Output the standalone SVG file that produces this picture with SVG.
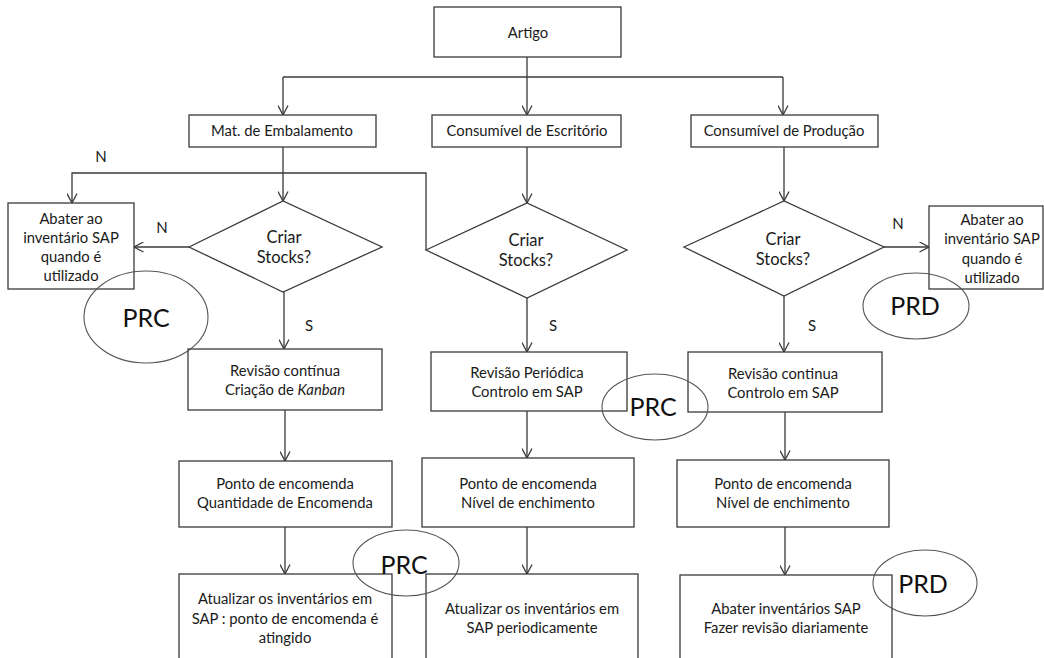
<svg xmlns="http://www.w3.org/2000/svg" width="1044" height="658" viewBox="0 0 1044 658">
  <defs>
    <marker id="arrow" viewBox="0 0 11 11" refX="10" refY="5.5" markerWidth="11" markerHeight="11" markerUnits="userSpaceOnUse" orient="auto">
      <path d="M0.5,0.5 L10,5.5 L0.5,10.5" fill="none" stroke="#3a3a3a" stroke-width="1.3"/>
    </marker>
    <style>
      .box { fill: #ffffff; stroke: #3a3a3a; stroke-width: 1.3; }
      .dia { fill: #ffffff; stroke: #3a3a3a; stroke-width: 1.3; }
      .tag { fill: none; stroke: #555555; stroke-width: 1.1; }
      .conn { fill: none; stroke: #3a3a3a; stroke-width: 1.3; }
      .t { font-family: Lato, "Open Sans", "Liberation Sans", sans-serif; font-size: 14.8px; fill: #1a1a1a; text-anchor: middle; dominant-baseline: central; }
      .q { font-size: 16.5px; }
      .lbl { font-family: Lato, "Open Sans", "Liberation Sans", sans-serif; font-size: 15px; fill: #1a1a1a; text-anchor: middle; dominant-baseline: central; }
      .big { font-family: Lato, "Open Sans", "Liberation Sans", sans-serif; font-size: 25px; fill: #111111; text-anchor: middle; dominant-baseline: central; }
    </style>
  </defs>
  <rect width="1044" height="658" fill="#ffffff"/>

  <!-- connectors -->
  <g id="connectors">
    <path class="conn" d="M527,57 V115" marker-end="url(#arrow)"/>
    <path class="conn" d="M283,77 H783"/>
    <path class="conn" d="M283,77 V115" marker-end="url(#arrow)"/>
    <path class="conn" d="M783,77 V115" marker-end="url(#arrow)"/>

    <!-- left column -->
    <path class="conn" d="M283,147 V201" marker-end="url(#arrow)"/>
    <path class="conn" d="M426,250 V173 H72 V203" marker-end="url(#arrow)"/>
    <path class="conn" d="M189,247 H134" marker-end="url(#arrow)"/>
    <path class="conn" d="M284,292 V349" marker-end="url(#arrow)"/>
    <path class="conn" d="M285,410 V461" marker-end="url(#arrow)"/>
    <path class="conn" d="M285,527 V574" marker-end="url(#arrow)"/>

    <!-- middle column -->
    <path class="conn" d="M527,147 V203" marker-end="url(#arrow)"/>
    <path class="conn" d="M527,298 V352" marker-end="url(#arrow)"/>
    <path class="conn" d="M527,411 V458" marker-end="url(#arrow)"/>
    <path class="conn" d="M527,527 V574" marker-end="url(#arrow)"/>

    <!-- right column -->
    <path class="conn" d="M784,147 V201" marker-end="url(#arrow)"/>
    <path class="conn" d="M884,247 H929" marker-end="url(#arrow)"/>
    <path class="conn" d="M784,296 V352" marker-end="url(#arrow)"/>
    <path class="conn" d="M785,412 V460" marker-end="url(#arrow)"/>
    <path class="conn" d="M785,527 V575" marker-end="url(#arrow)"/>

    <!-- branch labels -->
    <text class="lbl" x="101" y="156">N</text>
    <text class="lbl" x="162" y="227">N</text>
    <text class="lbl" x="309" y="325">S</text>
    <text class="lbl" x="553" y="325">S</text>
    <text class="lbl" x="812" y="325">S</text>
    <text class="lbl" x="898" y="223">N</text>
  </g>

  <g id="artigo">
    <rect class="box" x="434" y="7" width="187" height="50"/>
    <text class="t" x="528" y="32">Artigo</text>
  </g>

  <g id="mat-embalamento">
    <rect class="box" x="189" y="115" width="187" height="32"/>
    <text class="t" x="282" y="130">Mat. de Embalamento</text>
  </g>
  <g id="consumivel-escritorio">
    <rect class="box" x="432" y="115" width="189" height="32"/>
    <text class="t" x="527" y="130">Consumível de Escritório</text>
  </g>
  <g id="consumivel-producao">
    <rect class="box" x="691" y="115" width="187" height="32"/>
    <text class="t" x="784" y="130">Consumível de Produção</text>
  </g>

  <!-- left column -->
  <g id="abater-esq">
    <rect class="box" x="8" y="203" width="126" height="86"/>
    <text class="t" x="71" y="218">Abater ao</text>
    <text class="t" x="71" y="237">inventário SAP</text>
    <text class="t" x="71" y="256">quando é</text>
    <text class="t" x="71" y="275">utilizado</text>
  </g>
  <g id="criar-stocks-esq">
    <polygon class="dia" points="189,247 283,201 382,247 283,292"/>
    <text class="t q" x="284" y="237">Criar</text>
    <text class="t q" x="284" y="257">Stocks?</text>
  </g>
  <g id="revisao-continua-kanban">
    <rect class="box" x="188" y="349" width="194" height="61"/>
    <text class="t" x="285" y="370">Revisão contínua</text>
    <text class="t" x="285" y="389">Criação de <tspan font-style="italic">Kanban</tspan></text>
  </g>
  <g id="ponto-quantidade">
    <rect class="box" x="179" y="461" width="213" height="66"/>
    <text class="t" x="285" y="483">Ponto de encomenda</text>
    <text class="t" x="285" y="502">Quantidade de Encomenda</text>
  </g>
  <g id="atualizar-ponto">
    <rect class="box" x="179" y="574" width="213" height="100"/>
    <text class="t" x="285" y="598">Atualizar os inventários em</text>
    <text class="t" x="285" y="618">SAP : ponto de encomenda é</text>
    <text class="t" x="285" y="637">atingido</text>
  </g>

  <!-- middle column -->
  <g id="criar-stocks-meio">
    <polygon class="dia" points="426,250 527,203 627,250 527,298"/>
    <text class="t q" x="526" y="240">Criar</text>
    <text class="t q" x="526" y="260">Stocks?</text>
  </g>
  <g id="revisao-periodica">
    <rect class="box" x="431" y="352" width="196" height="59"/>
    <text class="t" x="527" y="372">Revisão  Periódica</text>
    <text class="t" x="527" y="391">Controlo em  SAP</text>
  </g>
  <g id="ponto-nivel-meio">
    <rect class="box" x="422" y="458" width="212" height="69"/>
    <text class="t" x="528" y="483">Ponto de encomenda</text>
    <text class="t" x="528" y="502">Nível de enchimento</text>
  </g>
  <g id="atualizar-periodicamente">
    <rect class="box" x="426" y="574" width="212" height="100"/>
    <text class="t" x="532" y="608">Atualizar os inventários em</text>
    <text class="t" x="532" y="627">SAP periodicamente</text>
  </g>

  <!-- right column -->
  <g id="criar-stocks-dir">
    <polygon class="dia" points="684,247 784,201 884,247 784,296"/>
    <text class="t q" x="783" y="239">Criar</text>
    <text class="t q" x="783" y="259">Stocks?</text>
  </g>
  <g id="abater-dir">
    <rect class="box" x="929" y="206" width="114" height="83"/>
    <text class="t" x="992" y="219">Abater ao</text>
    <text class="t" x="992" y="238">inventário SAP</text>
    <text class="t" x="992" y="258">quando é</text>
    <text class="t" x="992" y="277">utilizado</text>
  </g>
  <g id="revisao-continua-sap">
    <rect class="box" x="688" y="352" width="194" height="60"/>
    <text class="t" x="783" y="373">Revisão  continua</text>
    <text class="t" x="783" y="392">Controlo em  SAP</text>
  </g>
  <g id="ponto-nivel-dir">
    <rect class="box" x="677" y="460" width="212" height="67"/>
    <text class="t" x="783" y="483">Ponto de encomenda</text>
    <text class="t" x="783" y="502">Nível de enchimento</text>
  </g>
  <g id="abater-inventarios">
    <rect class="box" x="680" y="575" width="212" height="100"/>
    <text class="t" x="786" y="608">Abater  inventários  SAP</text>
    <text class="t" x="786" y="627">Fazer revisão diariamente</text>
  </g>

  <!-- process tags -->
  <g id="tag-prc-1">
    <ellipse class="tag" cx="146" cy="317" rx="62" ry="46"/>
    <text class="big" x="146" y="317">PRC</text>
  </g>
  <g id="tag-prd-1">
    <ellipse class="tag" cx="916" cy="306" rx="53" ry="33"/>
    <text class="big" x="915" y="305">PRD</text>
  </g>
  <g id="tag-prc-2">
    <ellipse class="tag" cx="655" cy="407" rx="53" ry="33"/>
    <text class="big" x="653" y="406">PRC</text>
  </g>
  <g id="tag-prc-3">
    <ellipse class="tag" cx="406" cy="563" rx="53" ry="33"/>
    <text class="big" x="404" y="564">PRC</text>
  </g>
  <g id="tag-prd-2">
    <ellipse class="tag" cx="925" cy="583" rx="52" ry="33"/>
    <text class="big" x="923" y="583">PRD</text>
  </g>
</svg>
